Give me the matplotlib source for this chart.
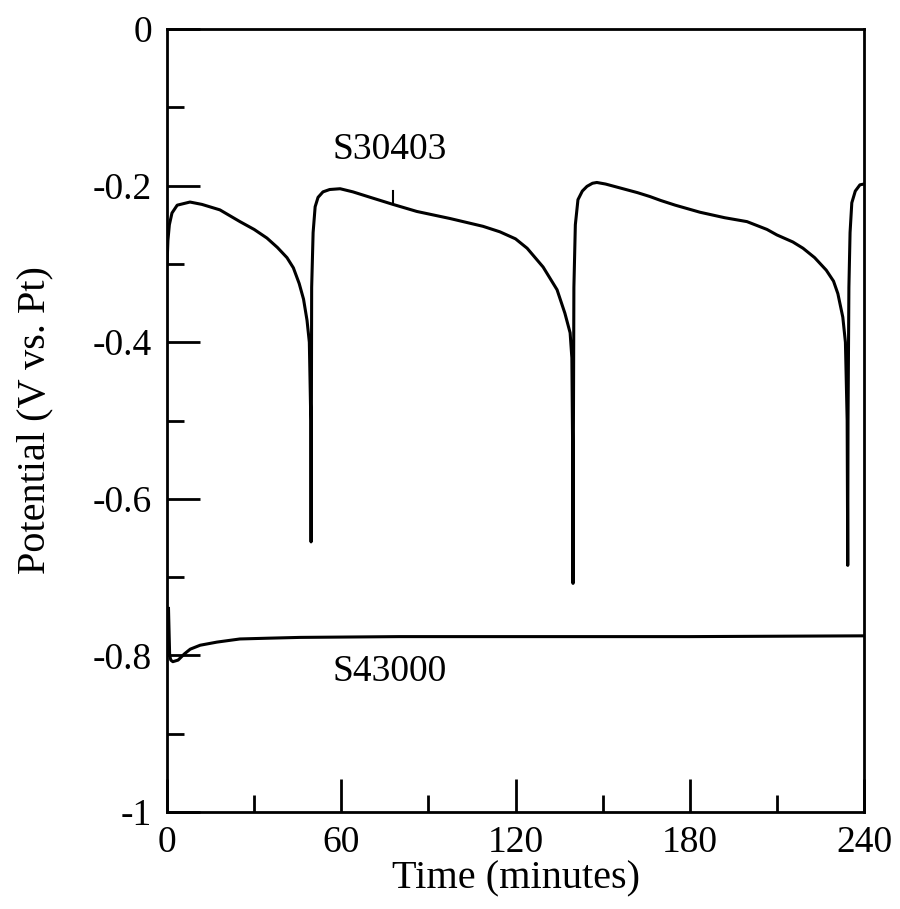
import matplotlib
matplotlib.use("Agg")
import matplotlib.pyplot as plt

# S30403 open-circuit potential
t_304 = [0, 0.3, 0.8, 1.7, 3.5, 7.9, 12, 18.2, 25.1, 30, 34.4, 38, 41.3, 43.5, 45.5,
         47, 48.2, 49.0, 49.5, 49.6, 49.7, 49.8, 50.3, 51.0, 52, 53.7, 56, 59.6, 64,
         70, 77.8, 86, 97.4, 108.8, 114.6, 120, 124, 129.5, 134.3, 137, 138.8, 139.4,
         139.7, 139.8, 139.9, 140.1, 140.6, 141.5, 143, 144.6, 146.5, 148, 151, 156,
         162, 166.3, 170, 175, 183.5, 192, 199.7, 206.6, 210, 215.5, 219, 223, 227,
         229.5, 231, 232.7, 233.6, 234.2, 234.4, 234.5, 234.8, 235.2, 235.8, 237,
         238.6, 240]
v_304 = [-0.30, -0.27, -0.25, -0.235, -0.225, -0.221, -0.224, -0.231, -0.246, -0.256,
         -0.267, -0.279, -0.292, -0.305, -0.325, -0.345, -0.372, -0.40, -0.50, -0.655,
         -0.50, -0.33, -0.26, -0.227, -0.215, -0.208, -0.205, -0.204, -0.208, -0.215,
         -0.224, -0.233, -0.242, -0.252, -0.259, -0.268, -0.280, -0.304, -0.333,
         -0.363, -0.388, -0.42, -0.55, -0.708, -0.55, -0.33, -0.25, -0.218, -0.207,
         -0.201, -0.197, -0.196, -0.198, -0.203, -0.209, -0.214, -0.219, -0.225,
         -0.234, -0.241, -0.246, -0.256, -0.263, -0.272, -0.280, -0.292, -0.308,
         -0.322, -0.338, -0.368, -0.40, -0.50, -0.685, -0.50, -0.33, -0.26, -0.222,
         -0.207, -0.199, -0.198]

# S43000
t_430 = [0.5, 0.9, 1.3, 2.0, 3.8, 6, 8, 11.4, 17.2, 25.1, 35, 45.8, 80, 120, 180, 240]
v_430 = [-0.74, -0.80, -0.806, -0.808, -0.806, -0.798, -0.792, -0.787, -0.783,
         -0.779, -0.778, -0.777, -0.776, -0.776, -0.776, -0.775]

# label pointer for S30403
ptr_t = [77.8, 77.8]
ptr_v = [-0.224, -0.207]

plt.rcParams["font.family"] = ["Liberation Serif", "DejaVu Serif"]

fig = plt.figure(figsize=(9, 9.09), dpi=100)
ax = fig.add_axes([0.1856, 0.1067, 0.7744, 0.8614])

lw = 2.2
ax.plot(t_304, v_304, color="black", lw=lw)
ax.plot(t_430, v_430, color="black", lw=lw)
ax.plot(ptr_t, ptr_v, color="black", lw=1.5)

ax.text(76.8, -0.1545, "S30403", fontsize=27, ha="center", va="center")
ax.text(76.8, -0.821, "S43000", fontsize=27, ha="center", va="center")

ax.set_xlim(0, 240)
ax.set_ylim(-1, 0)
ax.set_xticks([0, 60, 120, 180, 240])
ax.set_xticks([30, 90, 150, 210], minor=True)
ax.set_yticks([-1, -0.8, -0.6, -0.4, -0.2, 0])
ax.set_yticklabels(["-1", "-0.8", "-0.6", "-0.4", "-0.2", "0"])
ax.set_yticks([-0.9, -0.7, -0.5, -0.3, -0.1], minor=True)
ax.set_xticklabels(["0", "60", "120", "180", "240"])

ax.tick_params(which="both", direction="in", width=2, labelsize=27)
ax.tick_params(which="major", length=24)
ax.tick_params(which="minor", length=12)
ax.tick_params(axis="y", pad=11)
ax.tick_params(axis="x", pad=10)
for s in ax.spines.values():
    s.set_linewidth(2)

ax.set_xlabel("Time (minutes)", fontsize=29, labelpad=0)
ax.set_ylabel("Potential (V vs. Pt)", fontsize=29, labelpad=28)

fig.savefig("out.png", dpi=100)
